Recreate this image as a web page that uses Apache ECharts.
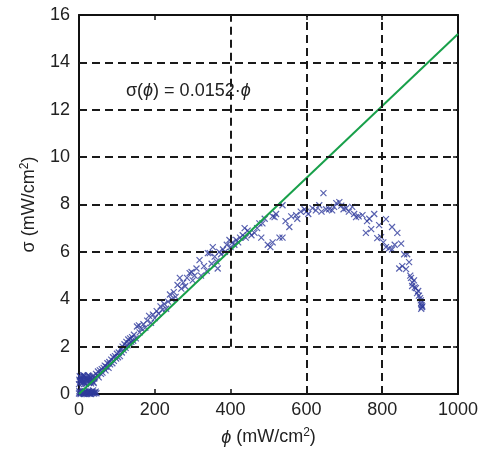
<!DOCTYPE html>
<html>
<head>
<meta charset="utf-8">
<script src="https://cdn.jsdelivr.net/npm/echarts@6/dist/echarts.min.js"></script>
<style>
  html, body { margin: 0; padding: 0; background: #fff; }
  #chart { width: 481px; height: 457px; }
</style>
</head>
<body>
<div id="chart"></div>
<script>
// Measured power density phi (mW/cm^2) and output sigma (mW/cm^2)
const phiValues = [
  0,2,4,6,8,10,12,14,16,18,20,22,24,26,28,30,32,34,36,38,40,42,44,46,
  0,2,4,6,8,10,12,14,16,18,20,22,24,26,28,30,32,34,36,38,40,1,5,9,13,
  3,7,11,15,19,23,27,31,35,39,1,5,9,13,17,21,25,29,33,37,
  42,45,48,50,52,55,58,60,62,65,68,70,72,75,78,80,82,85,88,90,92,95,98,100,
  103,105,108,110,113,115,118,120,123,125,128,130,133,135,138,140,143,145,150,
  153,158,160,165,170,175,180,185,190,195,200,205,210,215,220,225,230,235,240,
  245,250,255,260,266,270,275,280,285,292,297,300,305,310,318,322,330,337,340,
  345,350,353,358,363,366,370,375,380,385,390,397,400,405,410,415,420,425,432,
  437,440,445,450,455,463,470,476,481,484,490,498,505,511,511,516,520,529,537,
  537,545,555,560,573,576,585,595,600,605,616,625,634,640,645,652,660,668,673,
  679,687,692,698,705,712,721,726,731,738,748,757,760,766,771,779,787,792,797,
  803,810,810,818,826,826,833,840,845,850,853,858,863,866,871,874,876,880,884,
  879,886,889,892,895,897,900,902,903,904,905,906,903
];
const sigmaValues = [
  0.02,0.08,0.0,0.05,0.1,0.02,0.07,0.0,0.1,0.04,0.08,0.0,0.06,0.1,0.03,0.07,0.0,0.09,0.04,0.08,0.02,0.06,0.1,0.03,
  0.42,0.75,0.55,0.65,0.45,0.8,0.6,0.5,0.72,0.42,0.68,0.55,0.78,0.48,0.62,0.7,0.45,0.58,0.75,0.5,0.65,0.6,0.7,0.5,0.78,
  0.5,0.62,0.72,0.44,0.58,0.66,0.76,0.52,0.64,0.46,0.12,0.05,0.14,0.02,0.11,0.06,0.13,0.01,0.09,0.15,
  0.7,0.85,0.8,0.95,0.7,1.0,0.85,1.05,0.9,1.1,1.2,1.0,1.15,1.3,1.1,1.35,1.25,1.45,1.3,1.55,1.4,1.6,1.5,1.7,
  1.55,1.75,1.6,1.9,1.75,2.0,1.85,2.1,1.95,2.2,2.05,2.3,2.15,2.35,2.2,2.4,2.25,2.5,2.35,
  2.85,2.9,2.6,2.75,2.95,2.8,3.1,3.3,3.0,3.35,3.2,3.5,3.4,3.7,3.55,3.8,3.6,3.9,4.2,
  4.0,4.3,4.1,4.6,4.9,4.45,4.7,4.55,4.9,5.1,5.15,4.8,5.0,5.3,5.65,5.0,5.4,5.2,5.95,
  5.95,5.5,6.2,5.8,5.6,5.3,6.0,5.9,6.1,6.0,6.3,6.5,6.2,6.4,6.3,6.5,6.4,6.6,6.7,
  7.0,6.6,6.9,6.8,6.7,6.8,7.0,7.2,6.6,7.2,7.4,6.3,6.2,6.4,7.5,7.47,7.6,6.6,7.97,
  6.6,7.3,7.05,7.5,7.55,7.4,7.7,7.8,7.7,7.6,7.85,7.75,7.97,7.7,8.48,7.8,7.8,7.75,7.9,
  8.06,8.1,7.95,7.8,7.85,7.7,7.9,7.6,7.47,7.5,7.55,6.8,7.3,7.4,6.96,7.6,6.58,7.13,6.62,
  6.4,7.38,6.2,6.15,7.05,6.1,6.3,6.8,5.3,6.35,5.4,5.9,5.27,5.9,5.57,5.0,4.9,4.7,4.8,
  4.56,4.5,4.47,4.26,4.35,4.15,4.05,3.95,3.84,3.75,3.67,3.7,3.6
];

// Linear fit sigma = k * phi
const fitSlope = 0.0152;
const fitPhi = [0, 1000];

// Axis ranges and dashed reference lines
const xTicks = [0, 200, 400, 600, 800, 1000];
const yTicks = [0, 2, 4, 6, 8, 10, 12, 14, 16];
const hGridY = [2, 4, 6, 8, 10, 12, 14];
// vertical dashed lines: [phi, sigma from, sigma to]
const vGrid = [[400, 2, 16], [600, 0, 16], [800, 0, 16]];

const points = phiValues.map((p, i) => [p, sigmaValues[i]]);
const fitLine = fitPhi.map(p => [p, fitSlope * p]);

const gridLineData = [];
hGridY.forEach(y => gridLineData.push([{ coord: [xTicks[0], y] }, { coord: [xTicks[xTicks.length - 1], y] }]));
vGrid.forEach(v => gridLineData.push([{ coord: [v[0], v[1]] }, { coord: [v[0], v[2]] }]));

const FONT = 'Liberation Sans, Arial, sans-serif';
const INK = '#222';
const FS = 18;
const axisCommon = {
  axisLine: { show: true, onZero: false, lineStyle: { color: '#111', width: 2 } },
  axisTick: { show: true, inside: true, length: 5, lineStyle: { color: '#111', width: 1.5 } },
  splitLine: { show: false }
};

const chart = echarts.init(document.getElementById('chart'), null, { renderer: 'canvas' });
chart.setOption({
  animation: false,
  backgroundColor: '#fff',
  grid: { left: 79, right: 22, top: 15, bottom: 63 },
  xAxis: [
    Object.assign({
      type: 'value', min: xTicks[0], max: xTicks[xTicks.length - 1], interval: 200, position: 'bottom',
      axisLabel: { color: INK, fontSize: FS, fontFamily: FONT, margin: 7, formatter: v => String(v) },
      name: '{i|ϕ} (mW/cm{s|2})',
      nameLocation: 'middle', nameGap: 33,
      nameTextStyle: {
        color: INK, fontSize: FS, fontFamily: FONT,
        rich: {
          i: { fontStyle: 'italic', fontSize: FS, fontFamily: FONT, color: INK },
          s: { fontSize: 12, fontFamily: FONT, color: INK, verticalAlign: 'top', padding: [0, 0, 9, 0] }
        }
      }
    }, axisCommon),
    Object.assign({
      type: 'value', min: xTicks[0], max: xTicks[xTicks.length - 1], interval: 200, position: 'top',
      axisLabel: { show: false }
    }, axisCommon)
  ],
  yAxis: [
    Object.assign({
      type: 'value', min: yTicks[0], max: yTicks[yTicks.length - 1], interval: 2, position: 'left',
      axisLabel: { color: INK, fontSize: FS, fontFamily: FONT, margin: 9 },
      name: 'σ (mW/cm{s|2})',
      nameLocation: 'middle', nameGap: 39, nameRotate: 90,
      nameTextStyle: {
        color: INK, fontSize: FS, fontFamily: FONT,
        rich: {
          s: { fontSize: 12, fontFamily: FONT, color: INK, verticalAlign: 'top', padding: [0, 0, 9, 0] }
        }
      }
    }, axisCommon),
    Object.assign({
      type: 'value', min: yTicks[0], max: yTicks[yTicks.length - 1], interval: 2, position: 'right',
      axisLabel: { show: false }
    }, axisCommon)
  ],
  series: [
    {
      name: 'grid',
      type: 'line',
      data: [],
      silent: true,
      markLine: {
        silent: true,
        symbol: ['none', 'none'],
        label: { show: false },
        lineStyle: { color: '#1a1a1a', width: 2, type: [8, 5] },
        data: gridLineData
      }
    },
    {
      name: 'measured',
      type: 'scatter',
      data: points,
      symbol: 'path://M0,0L10,10M10,0L0,10',
      symbolSize: 6,
      itemStyle: { color: 'rgba(0,0,0,0)', borderColor: '#2f3b9c', borderWidth: 1.2 },
      z: 3
    },
    {
      name: 'fit',
      type: 'line',
      data: fitLine,
      showSymbol: false,
      lineStyle: { color: '#18a04a', width: 2 },
      z: 4
    }
  ],
  graphic: [
    {
      type: 'text',
      left: 126, top: 82,
      style: {
        text: 'σ({i|ϕ}) = 0.0152·{i|ϕ}',
        fill: INK, fontSize: FS, fontFamily: FONT,
        rich: { i: { fontStyle: 'italic', fontSize: FS, fontFamily: FONT, fill: INK } }
      }
    }
  ]
});
</script>
</body>
</html>
